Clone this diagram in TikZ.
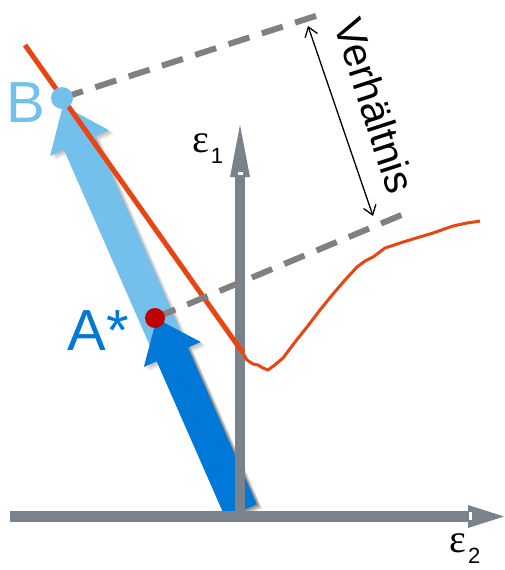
\documentclass[tikz,border=0pt]{standalone}
\usepackage{fontspec}
\setmainfont{Liberation Sans}
\newfontfamily\serifgr{Liberation Serif}
\usetikzlibrary{arrows.meta}
\definecolor{lblue}{HTML}{74C0EC}
\definecolor{dblue}{HTML}{0078D7}
\definecolor{axisgray}{HTML}{7A838B}
\definecolor{redc}{HTML}{E84512}
\definecolor{dashgray}{HTML}{808080}
\definecolor{dotred}{HTML}{C00000}
\tikzset{
  softshadow/.style={fill=black,opacity=.045},
  axisfill/.style={fill=axisgray},
  guide/.style={draw=dashgray,line width=6pt,dash pattern=on 22pt off 13pt},
  dot/.style={circle,inner sep=0pt,minimum size=#1},
  bigtxt/.style={inner sep=0pt,font=\fontsize{58}{58}\selectfont},
  eps/.style={inner sep=0pt,anchor=base west,font=\serifgr\fontsize{40}{40}\selectfont}
}
\newcommand{\lbpath}{(0,-17) -- (402,-17) -- (402,-32) -- (443,0) -- (402,32) -- (402,17) -- (0,17) -- cycle}
\newcommand{\dbpath}{(0,-17) -- (171,-17) -- (171,-31) -- (210,0) -- (171,31) -- (171,17) -- (0,17) -- cycle}
\begin{document}
\begin{tikzpicture}[x=1pt,y=-1pt]
\useasboundingbox (0,0) rectangle (504,570);
% light blue arrow with soft shadow
\foreach \s in {1,...,7}{
  \begin{scope}[shift={(241+0.8*\s,511+0.6*\s)},rotate=113.7]
  \fill[softshadow] \lbpath;
  \end{scope}
}
\begin{scope}[shift={(241,511)},rotate=113.7]
\fill[lblue] \lbpath;
\end{scope}
% dark blue arrow with soft shadow
\foreach \s in {1,...,7}{
  \begin{scope}[shift={(241+0.8*\s,511+0.6*\s)},rotate=113.7]
  \fill[softshadow] \dbpath;
  \end{scope}
}
\begin{scope}[shift={(241,511)},rotate=113.7]
\fill[dblue] \dbpath;
\end{scope}
% axes
\fill[axisfill] (10,511) rectangle (470,522);
\fill[axisfill] (468,505) -- (504,516.5) -- (468,528) -- cycle;
\fill[white] (469,512) rectangle (472,520);
\fill[axisfill] (235,522) rectangle (245,175);
\fill[axisfill] (230,177) -- (240,125) -- (250,177) -- cycle;
\fill[white] (237.5,172) rectangle (242.5,175);
% red curve
\coordinate (r0) at (25,45);
\coordinate (r1) at (243,353);
\draw[redc,line width=5pt] (r0) -- (r1);
\draw[redc,line width=3pt,line join=round] (r1) -- (247,360) -- (253,364) -- (258,365) -- (263,368) -- (268,370) -- (276,364) -- (283,358) -- (295,342) -- (307,327) -- (320,310) -- (333,294) -- (345,280) -- (357,267) -- (365,261) -- (373,257) -- (385,248) -- (400,243) -- (413,239) -- (433,233) -- (453,226) -- (467,223) -- (474,222) -- (480,221);
% nodes
\node[dot=22pt] (B) at (62,98) {};
\node[dot=20pt] (Astar) at (155,318) {};
\coordinate (g1) at (328,12);
\coordinate (g2) at (411,211);
\draw[guide] (B.center) -- (g1);
\draw[guide] (Astar.center) -- (g2);
\fill[lblue] (B) circle (11);
\fill[dotred] (Astar) circle (10);
% ratio arrow
\coordinate (v1) at (308,26);
\coordinate (v2) at (373,216);
\draw[line width=1.3pt,{Straight Barb[length=9pt,width=13pt]}-{Straight Barb[length=9pt,width=13pt]}] (v1) -- (v2);
\node[inner sep=0pt,rotate=-72,font=\fontsize{41}{41}\selectfont] (verh) at (375,106) {Verhältnis};
% labels
\node[bigtxt,text=lblue] (Blab) at (26,103) {B};
\node[bigtxt,text=dblue] (Alab) at (98,331) {A*};
\node[eps] (e1) at (192,152) {ε\hspace{2pt}\raisebox{-11pt}{\fontspec{Liberation Sans}\fontsize{22}{22}\selectfont 1}};
\node[eps] (e2) at (449,552) {ε\hspace{2pt}\raisebox{-11pt}{\fontspec{Liberation Sans}\fontsize{22}{22}\selectfont 2}};
\end{tikzpicture}
\end{document}
